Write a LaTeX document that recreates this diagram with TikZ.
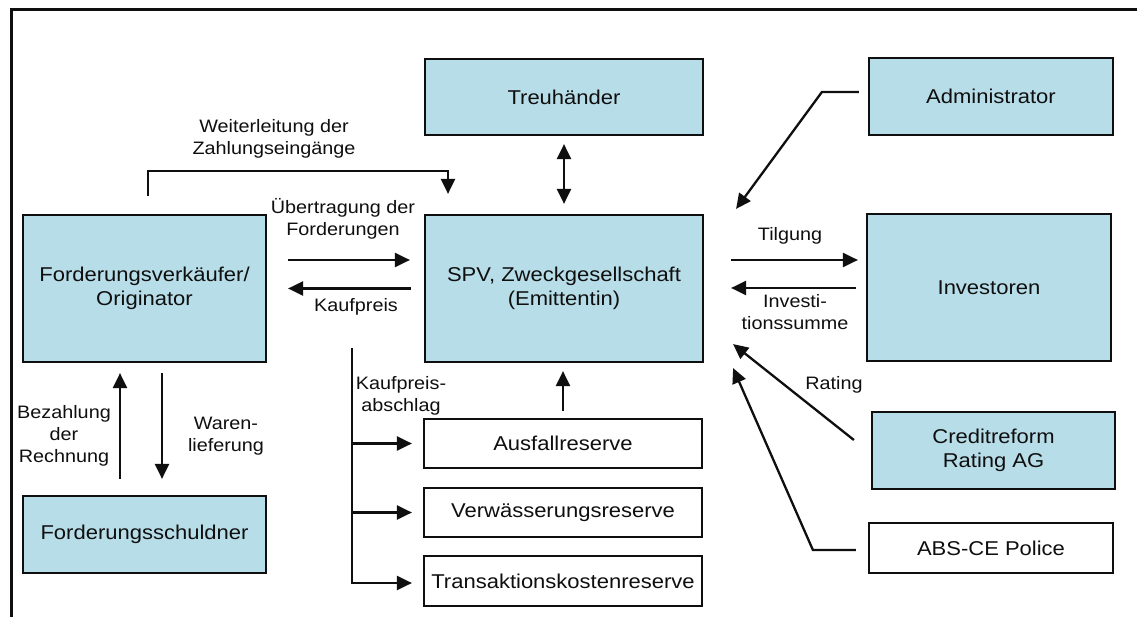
\documentclass[tikz,border=0pt]{standalone}
\usepackage{fontspec}
\setmainfont{Liberation Sans}[FakeStretch=1.1]
\usetikzlibrary{arrows.meta,calc}
\definecolor{boxblue}{RGB}{183,221,232}
\definecolor{ink}{RGB}{15,15,15}
\begin{document}
\begin{tikzpicture}[x=1pt,y=-1pt,
  box/.style={draw=ink, line width=2.2pt, fill=boxblue, inner sep=0pt, text=ink,
    font=\fontsize{20}{24}\selectfont, align=center},
  wbox/.style={box, fill=white},
  tip/.style={Triangle[length=15pt,width=14pt]},
  arr/.style={draw=ink, line width=2.3pt, -{Triangle[length=15pt,width=14pt]}},
  dbl/.style={draw=ink, line width=2.3pt, {Triangle[length=15pt,width=14pt]}-{Triangle[length=15pt,width=14pt]}},
  lbl/.style={font=\fontsize{18}{22}\selectfont, align=center, inner sep=0pt, text=ink}]
\useasboundingbox (0,0) rectangle (1137,617);
\fill[white] (0,0) rectangle (1137,617);
\draw[ink, line width=3pt] (1137,10) -- (11,10) -- (11,617);

% boxes
\node[box, minimum width=278pt, minimum height=76pt] (treu) at (564,97) {Treuhänder};
\node[box, minimum width=244pt, minimum height=77pt] (adm) at (991,96.5) {Administrator};
\node[box, minimum width=243pt, minimum height=147pt] (orig) at (144.5,288.5) {Forderungsverkäufer/\\Originator};
\node[box, minimum width=278pt, minimum height=147pt] (spv) at (564,288.5) {SPV, Zweckgesellschaft\\(Emittentin)};
\node[box, minimum width=244pt, minimum height=147pt] (inv) at (989,287.5) {Investoren};
\node[box, minimum width=243pt, minimum height=77pt] (cr) at (993.5,450.5) {Creditreform\\Rating AG};
\node[wbox, minimum width=244pt, minimum height=50pt] (abs) at (991,548) {ABS-CE Police};
\node[box, minimum width=243pt, minimum height=77pt] (schuld) at (144.5,534.5) {Forderungsschuldner};
\node[wbox, minimum width=278pt, minimum height=49pt] (ausf) at (563,443.5) {Ausfallreserve};
\node[wbox, minimum width=278pt, minimum height=49pt] (verw) at (563,512.5) {Verwässerungsreserve};
\node[wbox, minimum width=278pt, minimum height=50pt] (trans) at (563,581) {Transaktionskostenreserve};

% connectors
\draw[arr] ([xshift=3.5pt,yshift=18pt]orig.north) -- ++(0,-25) -| ([xshift=-116pt,yshift=20pt]spv.north);
\draw[dbl] ([yshift=-8pt]treu.south) -- ([yshift=10pt]spv.north);
\draw[arr] ([xshift=-9pt,yshift=4.5pt]adm.west) -- ++(-37,0) -- ([xshift=32pt,yshift=5pt]spv.north east);
\draw[arr] ([xshift=21pt,yshift=28.5pt]orig.east) -- ([xshift=-14pt,yshift=28.5pt]spv.west);
\draw[arr] ([xshift=-13pt]spv.west) -- ([xshift=21pt]orig.east);
\draw[arr] ([xshift=27pt,yshift=28.5pt]spv.east) -- ([xshift=-8pt,yshift=27.5pt]inv.west);
\draw[arr] ([xshift=-10pt,yshift=-0.5pt]inv.west) -- ([xshift=27pt,yshift=0.5pt]spv.east);
\draw[arr] ([xshift=-17pt,yshift=10.5pt]cr.west) -- ([xshift=29pt,yshift=19pt]spv.south east);
\draw[arr] ([xshift=-12pt,yshift=-2pt]abs.west) -- ++(-43,0) -- ([xshift=29pt,yshift=-5pt]spv.south east);
\draw[arr] ([yshift=7pt]ausf.north) -- ([yshift=-8pt]spv.south -| ausf.north);
\coordinate (k) at (352,348);
\draw[arr] (k) |- ([xshift=-11pt,yshift=-2pt]trans.west);
\draw[arr] (k |- ausf.west) -- ([xshift=-11pt]ausf.west);
\draw[arr] (k |- verw.west) -- ([xshift=-11pt]verw.west);
\draw[arr] ([xshift=-24.5pt,yshift=16pt]schuld.north) -- ([xshift=-24.5pt,yshift=-10pt]orig.south);
\draw[arr] ([xshift=17.5pt,yshift=-10pt]orig.south) -- ([xshift=17.5pt,yshift=16pt]schuld.north);

% labels
\node[lbl] (lw) at (274,139) {Weiterleitung der\\Zahlungseingänge};
\node[lbl] (lu) at (343,219) {Übertragung der\\Forderungen};
\node[lbl] (lk) at (356,307) {Kaufpreis};
\node[lbl] (lt) at (790,236) {Tilgung};
\node[lbl] (li) at (795,312) {Investi-\\tionssumme};
\node[lbl] (lr) at (834,385) {Rating};
\node[lbl] (la) at (401,396) {Kaufpreis-\\abschlag};
\node[lbl] (lb) at (64,436) {Bezahlung\\der\\Rechnung};
\node[lbl] (lwa) at (226,436) {Waren-\\lieferung};
\end{tikzpicture}
\end{document}
